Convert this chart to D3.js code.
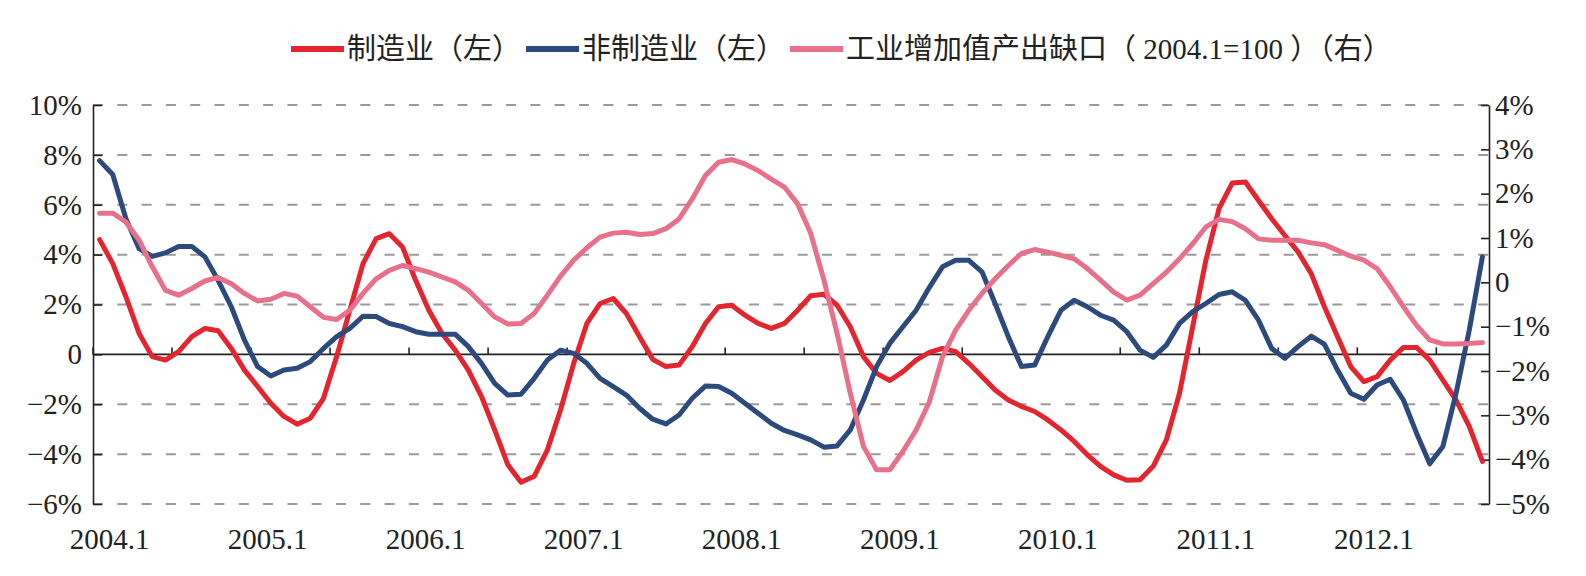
<!DOCTYPE html>
<html>
<head>
<meta charset="utf-8">
<script src="https://cdn.jsdelivr.net/npm/d3@7"></script>
<style>
  body { margin: 0; background: #fff; }
  text { font-family: "Liberation Serif", "Times New Roman", "Noto Sans CJK SC", serif; fill: #222; }
</style>
</head>
<body>
<div id="chart"></div>
<script>
// chart size
const width = 1586;
const height = 576;

// monthly data, 2004.1 - 2012.10
const yearLabels = ["2004.1", "2005.1", "2006.1", "2007.1", "2008.1", "2009.1", "2010.1", "2011.1", "2012.1"];

const manufacturing = [
  4.6, 3.64, 2.31, 0.84, -0.09, -0.23, 0.11, 0.71, 1.04, 0.95, 0.24, -0.63,
  -1.29, -1.96, -2.49, -2.8, -2.56, -1.76, -0.09, 1.77, 3.64, 4.64, 4.84, 4.31,
  2.97, 1.77, 0.84, 0.17, -0.63, -1.69, -3.03, -4.43, -5.13, -4.89, -3.83, -2.23,
  -0.36, 1.24, 2.04, 2.24, 1.64, 0.71, -0.2, -0.49, -0.43, 0.31, 1.24, 1.91,
  1.97, 1.57, 1.24, 1.04, 1.24, 1.77, 2.35, 2.41, 1.97, 1.11, -0.09, -0.76,
  -1.05, -0.69, -0.23, 0.08, 0.24, 0.11, -0.36, -0.89, -1.43, -1.83, -2.09, -2.29,
  -2.63, -3.03, -3.49, -4.03, -4.49, -4.83, -5.05, -5.03, -4.49, -3.43, -1.56, 1.11,
  3.77, 5.85, 6.87, 6.91, 6.17, 5.44, 4.77, 4.11, 3.24, 1.91, 0.71, -0.49,
  -1.09, -0.89, -0.23, 0.28, 0.28, -0.23, -1.03, -1.83, -2.89, -4.29
];

const nonManufacturing = [
  7.77, 7.21, 5.44, 4.24, 3.93, 4.07, 4.33, 4.33, 3.91, 2.97, 1.91, 0.57,
  -0.49, -0.87, -0.63, -0.56, -0.29, 0.24, 0.71, 1.04, 1.53, 1.52, 1.24, 1.11,
  0.91, 0.81, 0.81, 0.81, 0.31, -0.36, -1.16, -1.63, -1.6, -0.96, -0.23, 0.17,
  0.04, -0.36, -0.96, -1.29, -1.63, -2.16, -2.6, -2.79, -2.43, -1.76, -1.27, -1.29,
  -1.56, -1.96, -2.36, -2.76, -3.05, -3.23, -3.43, -3.72, -3.67, -3.03, -1.83, -0.49,
  0.44, 1.11, 1.77, 2.68, 3.51, 3.77, 3.77, 3.31, 2.04, 0.71, -0.49, -0.43,
  0.71, 1.77, 2.17, 1.91, 1.57, 1.37, 0.91, 0.17, -0.12, 0.37, 1.24, 1.71,
  2.04, 2.4, 2.51, 2.17, 1.37, 0.24, -0.16, 0.31, 0.73, 0.41, -0.63, -1.56,
  -1.8, -1.23, -1.0, -1.83, -3.16, -4.39, -3.69, -1.56, 0.97, 3.91
];

const outputGap = [
  1.56, 1.56, 1.36, 0.95, 0.35, -0.18, -0.29, -0.14, 0.03, 0.11, -0.03, -0.25,
  -0.42, -0.38, -0.25, -0.31, -0.55, -0.79, -0.84, -0.63, -0.25, 0.08, 0.27, 0.38,
  0.31, 0.23, 0.12, 0.01, -0.18, -0.48, -0.78, -0.94, -0.93, -0.7, -0.29, 0.14,
  0.5, 0.78, 1.02, 1.11, 1.13, 1.08, 1.1, 1.21, 1.43, 1.88, 2.41, 2.71,
  2.77, 2.67, 2.52, 2.33, 2.15, 1.77, 1.1, 0.05, -1.15, -2.5, -3.7, -4.23,
  -4.23, -3.81, -3.33, -2.7, -1.68, -1.08, -0.63, -0.25, 0.08, 0.38, 0.65, 0.74,
  0.68, 0.61, 0.53, 0.31, 0.05, -0.22, -0.4, -0.29, -0.03, 0.23, 0.53, 0.87,
  1.25, 1.42, 1.37, 1.21, 0.98, 0.95, 0.95, 0.95, 0.89, 0.85, 0.72, 0.59,
  0.5, 0.31, -0.1, -0.55, -0.97, -1.3, -1.39, -1.39, -1.38, -1.36
];

const leftTicks = [-6, -4, -2, 0, 2, 4, 6, 8, 10];
const rightTicks = [-5, -4, -3, -2, -1, 0, 1, 2, 3, 4];

const series = [
  { name: "制造业（左）", values: manufacturing, axis: "left", color: "#e3252f" },
  { name: "非制造业（左）", values: nonManufacturing, axis: "left", color: "#2c4a7c" },
  { name: "工业增加值产出缺口（ 2004.1=100 ）（右）", values: outputGap, axis: "right", color: "#e8708b" }
];

const plot = { left: 93, right: 1489, top: 105, bottom: 504 };
const nMonths = manufacturing.length;

const x = d3.scaleLinear().domain([0, nMonths]).range([plot.left, plot.right]);
const yL = d3.scaleLinear().domain([-6, 10]).range([plot.bottom, plot.top]);
const yR = d3.scaleLinear().domain([-5, 4]).range([plot.bottom, plot.top]);

const fmtPct = v => v === 0 ? "0" : (v < 0 ? "\u2212" + Math.abs(v) : v) + "%";

const svg = d3.select("#chart").append("svg")
  .attr("width", width)
  .attr("height", height);

svg.append("rect").attr("width", width).attr("height", height).attr("fill", "#fff");

// dashed gridlines
svg.append("g").selectAll("line")
  .data(leftTicks.filter(d => d !== 0))
  .enter().append("line")
  .attr("x1", plot.left).attr("x2", plot.right)
  .attr("y1", d => yL(d)).attr("y2", d => yL(d))
  .attr("stroke", "#9a9a9a")
  .attr("stroke-width", 2)
  .attr("stroke-dasharray", "10,14.3");

// zero line with half-year ticks
const y0 = yL(0);
svg.append("line")
  .attr("x1", plot.left).attr("x2", plot.right)
  .attr("y1", y0).attr("y2", y0)
  .attr("stroke", "#222").attr("stroke-width", 1.6);

svg.append("g").selectAll("line")
  .data(d3.range(0, nMonths + 1, 6))
  .enter().append("line")
  .attr("x1", d => x(d)).attr("x2", d => x(d))
  .attr("y1", y0).attr("y2", y0 - 7)
  .attr("stroke", "#222").attr("stroke-width", 1.6);

// year labels
svg.append("g").selectAll("text")
  .data(yearLabels)
  .enter().append("text")
  .attr("x", (d, i) => x(i * 12 + 0.5) + 10)
  .attr("y", 549)
  .attr("text-anchor", "middle")
  .attr("font-size", "29px")
  .text(d => d);

// left axis
const leftAxis = svg.append("g")
  .attr("transform", `translate(${plot.left},0)`)
  .call(d3.axisLeft(yL).tickValues(leftTicks).tickSizeInner(-9).tickSizeOuter(0).tickPadding(11).tickFormat(fmtPct));

// right axis
const rightAxis = svg.append("g")
  .attr("transform", `translate(${plot.right},0)`)
  .call(d3.axisRight(yR).tickValues(rightTicks).tickSizeInner(-8).tickSizeOuter(0).tickPadding(6).tickFormat(fmtPct));

[leftAxis, rightAxis].forEach(g => {
  g.select(".domain").attr("stroke", "#222").attr("stroke-width", 1.6);
  g.selectAll(".tick line").attr("stroke", "#222").attr("stroke-width", 1.6);
  g.selectAll(".tick text")
    .attr("font-size", "29px")
    .attr("font-family", "Liberation Serif, Times New Roman, serif")
    .attr("fill", "#222");
});

// lines
series.forEach(s => {
  const yScale = s.axis === "left" ? yL : yR;
  const line = d3.line()
    .x((d, i) => x(i + 0.5))
    .y(d => yScale(d));
  svg.append("path")
    .datum(s.values)
    .attr("d", line)
    .attr("fill", "none")
    .attr("stroke", s.color)
    .attr("stroke-width", 5)
    .attr("stroke-linejoin", "round")
    .attr("stroke-linecap", "round");
});

// legend
const legend = svg.append("g");
let lx = 291;
const ly = 49;
series.forEach(s => {
  legend.append("line")
    .attr("x1", lx).attr("x2", lx + 53)
    .attr("y1", ly).attr("y2", ly)
    .attr("stroke", s.color).attr("stroke-width", 6);
  const t = legend.append("text")
    .attr("x", lx + 56)
    .attr("y", ly + 10)
    .attr("font-size", "29px")
    .text(s.name);
  lx += 56 + t.node().getComputedTextLength() + 5;
});
</script>
</body>
</html>
